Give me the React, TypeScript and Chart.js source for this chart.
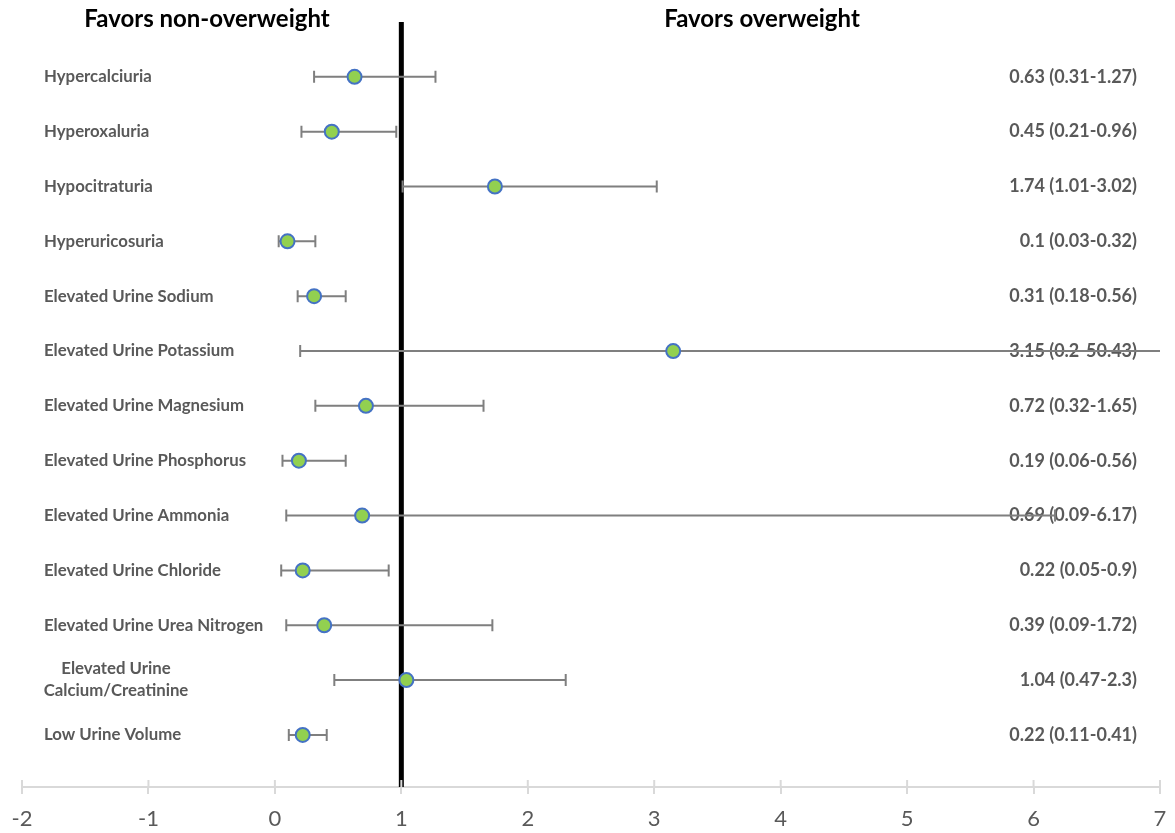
import React, { useEffect, useRef } from "react";
import { Chart, registerables } from "chart.js";

Chart.register(...registerables);

const categories: (string | string[])[] = [
  "Hypercalciuria",
  "Hyperoxaluria",
  "Hypocitraturia",
  "Hyperuricosuria",
  "Elevated Urine Sodium",
  "Elevated Urine Potassium",
  "Elevated Urine Magnesium",
  "Elevated Urine Phosphorus",
  "Elevated Urine Ammonia",
  "Elevated Urine Chloride",
  "Elevated Urine Urea Nitrogen",
  ["Elevated Urine", "Calcium/Creatinine"],
  "Low Urine Volume",
];
const oddsRatios = [0.63, 0.45, 1.74, 0.1, 0.31, 3.15, 0.72, 0.19, 0.69, 0.22, 0.39, 1.04, 0.22];
const lowerCI = [0.31, 0.21, 1.01, 0.03, 0.18, 0.2, 0.32, 0.06, 0.09, 0.05, 0.09, 0.47, 0.11];
const upperCI = [1.27, 0.96, 3.02, 0.32, 0.56, 50.43, 1.65, 0.56, 6.17, 0.9, 1.72, 2.3, 0.41];
const headerLeft = "Favors non-overweight";
const headerRight = "Favors overweight";
const xTicks = [-2, -1, 0, 1, 2, 3, 4, 5, 6, 7];

const valueLabels = oddsRatios.map((v, i) => `${v} (${lowerCI[i]}-${upperCI[i]})`);

const FONT = "Lato, 'Open Sans', sans-serif";
const GRAY_TEXT = "#595959";

const forestPlugin = {
  id: "forest",
  beforeDatasetsDraw(chart: any) {
    const { ctx, chartArea, scales } = chart;
    const x = scales.x;
    const y = scales.y;
    ctx.save();

    // headers
    ctx.fillStyle = "#000";
    ctx.font = `bold 24px ${FONT}`;
    ctx.textAlign = "center";
    ctx.textBaseline = "middle";
    ctx.fillText(headerLeft, 207, 19);
    ctx.fillText(headerRight, 762, 19);

    // row labels
    ctx.fillStyle = GRAY_TEXT;
    ctx.font = `bold 16.8px ${FONT}`;
    categories.forEach((c, i) => {
      const py = y.getPixelForValue(i);
      if (Array.isArray(c)) {
        ctx.textAlign = "center";
        const lh = 22;
        c.forEach((line, k) => {
          ctx.fillText(line, 116, py + (k - (c.length - 1) / 2) * lh);
        });
      } else {
        ctx.textAlign = "left";
        ctx.fillText(c, 44, py);
      }
    });

    // value labels
    ctx.font = `bold 18px ${FONT}`;
    ctx.textAlign = "right";
    valueLabels.forEach((t, i) => {
      ctx.fillText(t, 1137, y.getPixelForValue(i));
    });

    // reference line at 1
    const x1 = x.getPixelForValue(1);
    ctx.strokeStyle = "#000";
    ctx.lineWidth = 5;
    ctx.beginPath();
    ctx.moveTo(x1, chartArea.top);
    ctx.lineTo(x1, chartArea.bottom);
    ctx.stroke();

    // tick marks above the axis
    ctx.strokeStyle = "#d9d9d9";
    ctx.lineWidth = 2;
    xTicks.forEach((t) => {
      const px = x.getPixelForValue(t);
      ctx.beginPath();
      ctx.moveTo(px, chartArea.bottom - 7);
      ctx.lineTo(px, chartArea.bottom);
      ctx.stroke();
    });

    // error bars
    ctx.beginPath();
    ctx.rect(chartArea.left, chartArea.top - 10, chartArea.right - chartArea.left, chartArea.bottom - chartArea.top + 20);
    ctx.clip();
    ctx.strokeStyle = "#7f7f7f";
    ctx.lineWidth = 2;
    oddsRatios.forEach((_, i) => {
      const py = y.getPixelForValue(i);
      const a = x.getPixelForValue(lowerCI[i]);
      const b = x.getPixelForValue(upperCI[i]);
      ctx.beginPath();
      ctx.moveTo(a, py);
      ctx.lineTo(b, py);
      ctx.moveTo(a, py - 6);
      ctx.lineTo(a, py + 6);
      ctx.moveTo(b, py - 6);
      ctx.lineTo(b, py + 6);
      ctx.stroke();
    });
    ctx.restore();
  },
};

export default function App() {
  const ref = useRef<HTMLCanvasElement>(null);
  useEffect(() => {
    if (!ref.current) return;
    const chart = new Chart(ref.current, {
      type: "scatter",
      data: {
        datasets: [
          {
            data: oddsRatios.map((v, i) => ({ x: v, y: i })),
            pointRadius: 7,
            pointBorderWidth: 2,
            pointBackgroundColor: "#92D050",
            pointBorderColor: "#4472C4",
          },
        ],
      },
      options: {
        responsive: false,
        animation: false,
        layout: { padding: { left: 22, right: 15, top: 22, bottom: 0 } },
        plugins: { legend: { display: false }, tooltip: { enabled: false } },
        scales: {
          x: {
            type: "linear",
            min: -2,
            max: 7,
            afterFit: (s: any) => {
              s.height = 46;
              s.paddingLeft = 0;
              s.paddingRight = 0;
            },
            afterBuildTicks: (s: any) => {
              s.ticks = xTicks.map((v) => ({ value: v }));
            },
            grid: {
              display: true,
              drawOnChartArea: false,
              drawTicks: true,
              tickLength: 7,
              color: "#d9d9d9",
              lineWidth: 2,
            },
            border: { display: true, color: "#d9d9d9", width: 2 },
            ticks: {
              color: GRAY_TEXT,
              font: { family: FONT, size: 22 },
              padding: 12,
              maxRotation: 0,
            },
          },
          y: {
            type: "linear",
            display: false,
            reverse: true,
            min: -1,
            max: 12.95,
          },
        },
      },
      plugins: [forestPlugin],
    });
    return () => chart.destroy();
  }, []);
  return (
    <div style={{ position: "absolute", left: 0, top: 0, width: 1175, height: 833, background: "#fff" }}>
      <canvas ref={ref} width={1175} height={833} />
    </div>
  );
}
